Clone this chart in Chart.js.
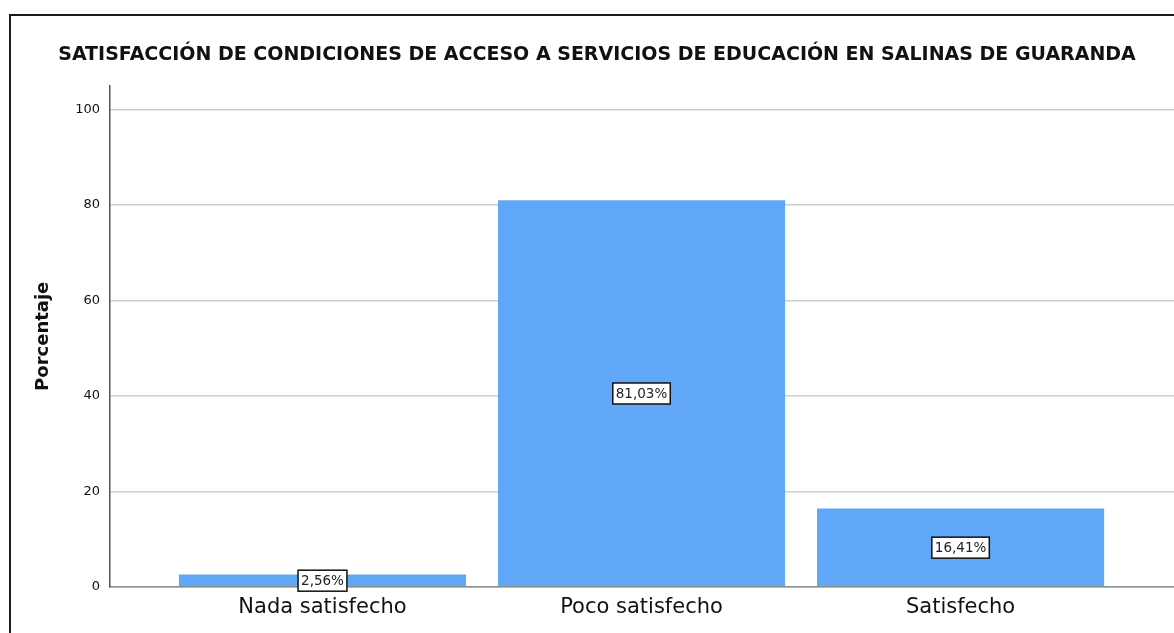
<!DOCTYPE html>
<html>
<head>
<meta charset="utf-8">
<script src="https://cdn.jsdelivr.net/npm/chart.js@4.4.1/dist/chart.umd.min.js"></script>
<style>
    html, body { margin: 0; padding: 0; background: #fff; overflow: hidden; }
    #wrap { position: relative; width: 1174px; height: 633px; }
    #frame {
        position: absolute; left: 9px; top: 14px;
        width: 1200px; height: 700px;
        border: 2px solid #1a1a1a; box-sizing: border-box;
    }
    #chart { position: absolute; left: 0; top: 0; }
</style>
</head>
<body>
<div id="wrap">
    <div id="frame"></div>
    <canvas id="chart" width="1174" height="633"></canvas>
</div>
<script>
const titulo = 'SATISFACCIÓN DE CONDICIONES DE ACCESO A SERVICIOS DE EDUCACIÓN EN SALINAS DE GUARANDA';
const categorias = ['Nada satisfecho', 'Poco satisfecho', 'Satisfecho'];
const porcentajes = [2.56, 81.03, 16.41];
const ticksY = [0, 20, 40, 60, 80, 100];

const FONT = '"DejaVu Sans", sans-serif';
const fmt = v => v.toFixed(2).replace('.', ',') + '%';

// etiqueta con recuadro en el centro de cada barra
const etiquetasBarra = {
    id: 'etiquetasBarra',
    afterDatasetsDraw(chart) {
        const ctx = chart.ctx;
        const meta = chart.getDatasetMeta(0);
        ctx.save();
        ctx.font = '13.5px ' + FONT;
        ctx.textAlign = 'center';
        ctx.textBaseline = 'middle';
        meta.data.forEach((bar, i) => {
            const txt = fmt(porcentajes[i]);
            const y = chart.scales.y.getPixelForValue(porcentajes[i] / 2);
            const w = ctx.measureText(txt).width + 6;
            const h = 21;
            ctx.fillStyle = '#fff';
            ctx.fillRect(bar.x - w / 2, y - h / 2, w, h);
            ctx.strokeStyle = '#111';
            ctx.lineWidth = 1.5;
            ctx.strokeRect(bar.x - w / 2, y - h / 2, w, h);
            ctx.fillStyle = '#222';
            ctx.fillText(txt, bar.x, y + 1);
        });
        ctx.restore();
    }
};

new Chart(document.getElementById('chart'), {
    type: 'bar',
    data: {
        datasets: [{
            data: porcentajes.map((v, i) => ({ x: i, y: v })),
            backgroundColor: 'rgb(97, 167, 248)',
            borderWidth: 0,
            barPercentage: 0.9,
            categoryPercentage: 1
        }]
    },
    options: {
        responsive: false,
        animation: false,
        layout: { padding: { left: 20, right: 0, top: 0, bottom: 5 } },
        plugins: {
            legend: { display: false },
            tooltip: { enabled: false },
            title: {
                display: true,
                text: titulo,
                color: '#111',
                font: { family: FONT, size: 19, weight: 'bold' },
                padding: { top: 44, bottom: 19 }
            }
        },
        scales: {
            x: {
                type: 'linear',
                offset: false,
                min: -0.666,
                max: 2.669,
                afterBuildTicks: s => { s.ticks = categorias.map((_, i) => ({ value: i })); },
                grid: { display: false, drawTicks: false, offset: false },
                border: { display: true, color: '#8c8c8c', width: 1.5 },
                ticks: {
                    padding: 8,
                    color: '#111',
                    font: { family: FONT, size: 21 },
                    callback: v => categorias[v] ?? ''
                }
            },
            y: {
                min: 0,
                max: 105,
                afterBuildTicks: s => { s.ticks = ticksY.map(v => ({ value: v })); },
                afterFit: s => { s.width = 90; },
                grid: { color: '#c8d1d2', lineWidth: 1.5, drawTicks: false },
                border: { display: true, color: '#555', width: 1.5 },
                ticks: {
                    padding: 10,
                    color: '#111',
                    font: { family: FONT, size: 13 }
                },
                title: {
                    display: true,
                    text: 'Porcentaje',
                    color: '#111',
                    font: { family: FONT, size: 18, weight: 'bold' },
                    padding: { top: 13, bottom: 0 }
                }
            }
        }
    },
    plugins: [etiquetasBarra]
});
</script>
</body>
</html>
